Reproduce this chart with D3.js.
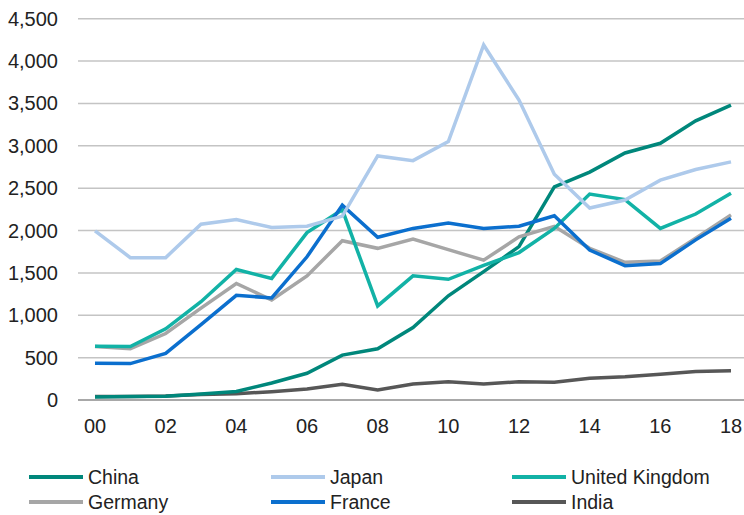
<!DOCTYPE html>
<meta charset='utf-8'>
<style>
  body{margin:0;background:#fff;}
  .tick-label{font-family:'Liberation Sans',Arial,sans-serif;font-size:20px;fill:#222;}
  .legend-text{font-family:'Liberation Sans',Arial,sans-serif;font-size:19.5px;fill:#222;}
</style>
<svg width='744' height='515'></svg>
<script src="https://d3js.org/d3.v7.min.js"></script>
<script>
  // years 2000..2018
  var years = d3.range(2000, 2019);
  var yTicks = [0, 500, 1000, 1500, 2000, 2500, 3000, 3500, 4000, 4500];
  var xTicks = [2000, 2002, 2004, 2006, 2008, 2010, 2012, 2014, 2016, 2018];

  var china   = [35, 40, 45, 70, 100, 200, 315, 530, 605, 855, 1230, 1515, 1810, 2515, 2690, 2915, 3030, 3295, 3480];
  var japan   = [1995, 1680, 1680, 2075, 2130, 2035, 2050, 2170, 2880, 2825, 3050, 4190, 3540, 2665, 2265, 2360, 2595, 2720, 2810];
  var uk      = [635, 630, 840, 1160, 1540, 1435, 1975, 2245, 1110, 1465, 1425, 1590, 1740, 2025, 2430, 2365, 2025, 2195, 2440];
  var germany = [630, 605, 785, 1085, 1375, 1180, 1465, 1880, 1790, 1900, 1775, 1650, 1925, 2050, 1790, 1625, 1640, 1910, 2185];
  var france  = [435, 430, 550, 890, 1235, 1205, 1690, 2300, 1920, 2025, 2090, 2025, 2050, 2175, 1770, 1585, 1610, 1890, 2145];
  var india   = [40, 42, 48, 65, 75, 98, 130, 185, 118, 188, 216, 189, 215, 209, 256, 275, 305, 337, 345];

  var seriesNames = ['China', 'Japan', 'United Kingdom', 'Germany', 'France', 'India'];
  var seriesColors = ['#00877b', '#aecaeb', '#12b2a6', '#a6a6a6', '#0b6fce', '#575757'];
  var seriesValues = [china, japan, uk, germany, france, india];

  var svg = d3.select('svg');

  var x = d3.scaleLinear().domain([2000, 2018]).range([95, 731]);
  var y = d3.scaleLinear().domain([0, 4500]).range([400, 18.7]);

  // grid
  svg.append('g').selectAll('line')
    .data(yTicks)
    .enter().append('line')
    .attr('x1', 78).attr('x2', 744)
    .attr('y1', function(d) { return y(d); })
    .attr('y2', function(d) { return y(d); })
    .attr('stroke', function(d) { return d === 0 ? '#a8a8a8' : '#c4c4c4'; })
    .attr('stroke-width', function(d) { return d === 0 ? 2 : 1.5; });

  // y axis labels
  svg.append('g').selectAll('text')
    .data(yTicks)
    .enter().append('text')
    .attr('class', 'tick-label')
    .attr('x', 58)
    .attr('y', function(d) { return y(d) + 7; })
    .attr('text-anchor', 'end')
    .text(function(d) { return d3.format(',')(d); });

  // x axis labels
  svg.append('g').selectAll('text')
    .data(xTicks)
    .enter().append('text')
    .attr('class', 'tick-label')
    .attr('x', function(d) { return x(d); })
    .attr('y', 433)
    .attr('text-anchor', 'middle')
    .text(function(d) { return d3.format('02')(d % 100); });

  var line = d3.line()
    .x(function(d, i) { return x(years[i]); })
    .y(function(d) { return y(d); });

  // draw order: back to front
  var order = [5, 0, 3, 2, 4, 1];
  svg.append('g').selectAll('path')
    .data(order)
    .enter().append('path')
    .attr('d', function(k) { return line(seriesValues[k]); })
    .attr('fill', 'none')
    .attr('stroke', function(k) { return seriesColors[k]; })
    .attr('stroke-width', 3.5)
    .attr('stroke-linejoin', 'miter');

  // legend
  var legend = svg.append('g').selectAll('g')
    .data(seriesNames)
    .enter().append('g')
    .attr('transform', function(d, i) {
      return 'translate(' + [29, 271, 512][i % 3] + ',' + (i < 3 ? 477 : 502) + ')';
    });

  legend.append('line')
    .attr('x1', 0).attr('x2', 54)
    .attr('stroke', function(d, i) { return seriesColors[i]; })
    .attr('stroke-width', 4);

  legend.append('text')
    .attr('class', 'legend-text')
    .attr('x', 59)
    .attr('y', 7)
    .text(function(d) { return d; });
</script>
